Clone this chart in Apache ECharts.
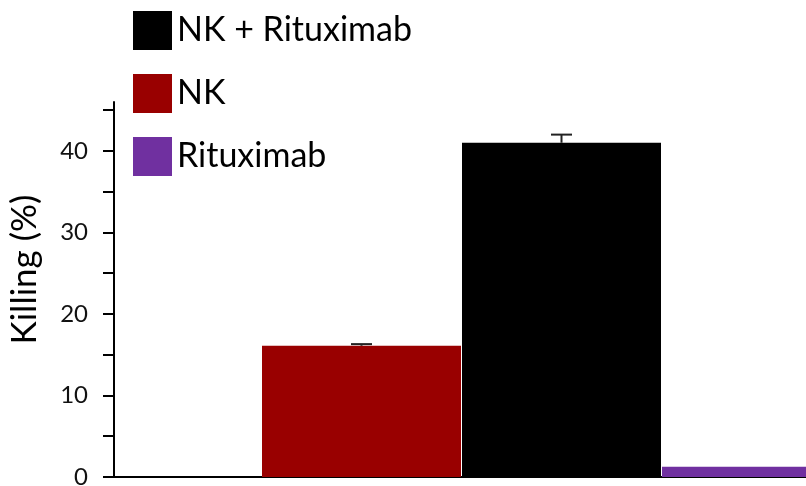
<!DOCTYPE html>
<html><head><meta charset="utf-8">
<script src="https://cdn.jsdelivr.net/npm/echarts@6/dist/echarts.min.js"></script>
<style>html,body{margin:0;padding:0;background:#fff}#c{width:806px;height:486px}</style>
</head><body><div id="c"></div>
<script>
// data
const seriesNames = ['NK', 'NK + Rituximab', 'Rituximab'];
const legendOrder = ['NK + Rituximab', 'NK', 'Rituximab'];
const barPositions = [1, 2, 3];
const killing = [16.1, 41.0, 1.25];
const errorHigh = [16.3, 42.0, null];
const colors = ['#990000', '#000000', '#7030A0'];
const yTickValues = [0, 5, 10, 15, 20, 25, 30, 35, 40, 45];
const yLabelValues = [0, 10, 20, 30, 40];

const FONT = 'Lato';

const chart = echarts.init(document.getElementById('c'), null, {renderer: 'canvas'});

const series = [];
seriesNames.forEach((name, i) => {
  series.push({
    name: name, type: 'bar', data: [[barPositions[i], killing[i]]],
    barWidth: 199, barGap: '-100%',
    itemStyle: {color: colors[i]}, z: 2
  });
});
seriesNames.forEach((name, i) => {
  if (errorHigh[i] == null) return;
  series.push({
    type: 'custom', z: 5, silent: true,
    data: [[barPositions[i], killing[i], errorHigh[i]]],
    renderItem: function (params, api) {
      const b = api.coord([api.value(0), api.value(1)]);
      const t = api.coord([api.value(0), api.value(2)]);
      const hw = 10.5;
      return {type: 'group', children: [
        {type: 'line', shape: {x1: b[0], y1: b[1], x2: t[0], y2: t[1]}, style: {stroke: '#222', lineWidth: 2}},
        {type: 'line', shape: {x1: t[0] - hw, y1: t[1], x2: t[0] + hw, y2: t[1]}, style: {stroke: '#222', lineWidth: 2}}
      ]};
    }
  });
});

chart.setOption({
  animation: false,
  backgroundColor: '#fff',
  grid: {left: 114, right: 0, top: 102, bottom: 9, containLabel: false, outerBoundsMode: 'none'},
  legend: {
    data: legendOrder, orient: 'vertical', left: 133, top: 11, padding: 0,
    icon: 'rect', itemWidth: 39, itemHeight: 39, itemGap: 24,
    textStyle: {fontFamily: FONT, fontSize: 34, color: '#000', lineHeight: 39}
  },
  xAxis: {
    type: 'value', min: -0.2375, max: 3.2225,
    axisLine: {show: true, onZero: false, lineStyle: {color: '#000', width: 2}},
    axisTick: {show: false}, axisLabel: {show: false}, splitLine: {show: false}
  },
  yAxis: {
    type: 'value', min: 0, max: 46, interval: 10,
    name: 'Killing (%)', nameLocation: 'middle', nameRotate: 90, nameGap: 72,
    nameTextStyle: {fontFamily: FONT, fontSize: 35, color: '#000', padding: [0, 0, 0, 40]},
    axisLine: {show: true, onZero: false, lineStyle: {color: '#000', width: 2}},
    axisTick: {show: true, inside: false, length: 11, customValues: yTickValues, lineStyle: {color: '#000', width: 2}},
    axisLabel: {customValues: yLabelValues, fontFamily: FONT, fontSize: 24, color: '#111', margin: 26},
    splitLine: {show: false}
  },
  series: series
});
</script></body></html>
